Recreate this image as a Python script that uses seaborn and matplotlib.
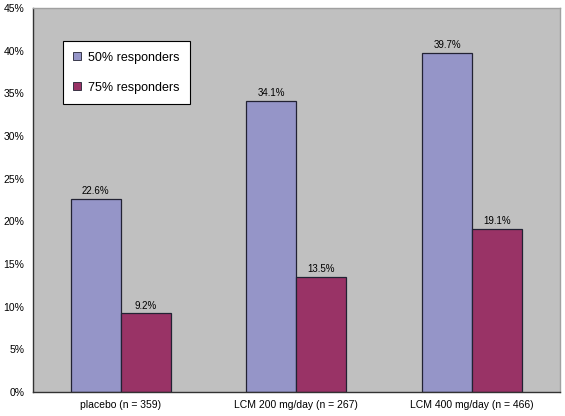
import matplotlib
matplotlib.use("Agg")
import matplotlib.pyplot as plt
from matplotlib.ticker import PercentFormatter
import seaborn as sns
import pandas as pd

categories = ["placebo (n = 359)", "LCM 200 mg/day (n = 267)", "LCM 400 mg/day (n = 466)"]
series = ["50% responders", "75% responders"]
resp50 = [22.6, 34.1, 39.7]
resp75 = [9.2, 13.5, 19.1]
colors = ["#9595C8", "#993366"]

sns.set_theme(style="white")
plt.rcParams["font.family"] = ["Liberation Sans", "DejaVu Sans"]
plt.rcParams["text.color"] = "black"
plt.rcParams["xtick.color"] = "black"
plt.rcParams["ytick.color"] = "black"

df = pd.DataFrame({
    "group": categories * 2,
    "series": [series[0]] * 3 + [series[1]] * 3,
    "value": resp50 + resp75,
})

fig = plt.figure(figsize=(5.65, 4.16), dpi=100)
ax = fig.add_axes([0.058, 0.058, 0.933, 0.923])
ax.set_facecolor("#C0C0C0")

sns.barplot(data=df, x="group", y="value", hue="series", palette=colors,
            order=categories, hue_order=series, width=0.57,
            edgecolor="#222233", linewidth=0.9, saturation=1, ax=ax)

for cont in ax.containers:
    ax.bar_label(cont, labels=[f"{v:.1f}%" for v in cont.datavalues],
                 padding=2, fontsize=7, color="black")

ax.set_ylim(0, 45)
ax.set_xlim(-0.5, 2.5)
ax.set_yticks(range(0, 46, 5))
ax.yaxis.set_major_formatter(PercentFormatter(decimals=0))
ax.set_xticks([0, 1, 2])
ax.set_xticklabels(categories)
ax.set_xticks([-0.5, 0.5, 1.5, 2.5], minor=True)
ax.tick_params(axis="x", which="major", length=0, labelsize=7.5, pad=6)
ax.tick_params(axis="x", which="minor", length=4, color="#333333", direction="out")
ax.tick_params(axis="y", length=4, labelsize=7.5, color="#333333", direction="out", pad=2)
ax.set_xlabel("")
ax.set_ylabel("")

for side in ["left", "bottom"]:
    ax.spines[side].set_color("#333333")
    ax.spines[side].set_linewidth(1)
for side in ["top", "right"]:
    ax.spines[side].set_color("#A0A0A0")
    ax.spines[side].set_linewidth(1)

leg = ax.legend(loc="upper left", bbox_to_anchor=(0.057, 0.914), frameon=True,
                fancybox=False, framealpha=1, borderaxespad=0, fontsize=9,
                handlelength=0.6, handleheight=0.6,
                labelspacing=1.45, borderpad=0.85, handletextpad=0.55)
leg.get_frame().set_facecolor("white")
leg.get_frame().set_edgecolor("black")
leg.get_frame().set_linewidth(0.8)
for h in leg.legend_handles:
    h.set_edgecolor("#222233")
    h.set_linewidth(0.6)

fig.savefig("out.png", dpi=100)
